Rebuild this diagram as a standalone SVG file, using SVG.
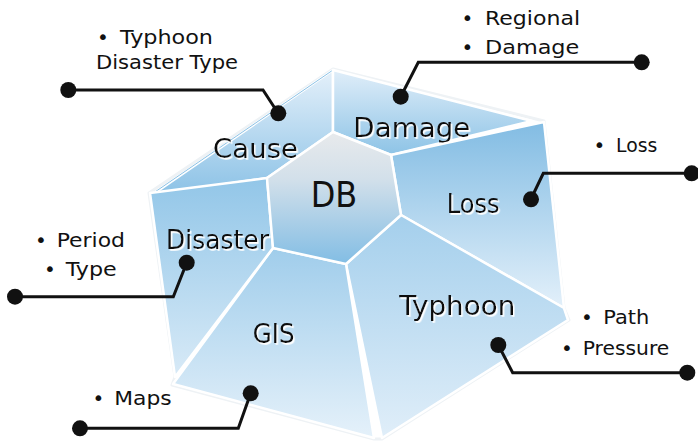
<svg xmlns="http://www.w3.org/2000/svg" width="698" height="443" viewBox="0 0 698 443">
<defs>
<linearGradient id="gCause" x1="0" y1="0" x2="0" y2="1"><stop offset="0" stop-color="#e4f0fa"/><stop offset="1" stop-color="#8cc2e6"/></linearGradient>
<linearGradient id="gDamage" x1="0" y1="0" x2="0" y2="1"><stop offset="0" stop-color="#e0eef9"/><stop offset="1" stop-color="#8dc3e6"/></linearGradient>
<linearGradient id="gLoss" x1="0" y1="0" x2="0" y2="1"><stop offset="0" stop-color="#82bce3"/><stop offset="1" stop-color="#e3f0fa"/></linearGradient>
<linearGradient id="gDisaster" x1="0" y1="0" x2="0" y2="1"><stop offset="0" stop-color="#92c6e8"/><stop offset="1" stop-color="#d8eaf7"/></linearGradient>
<linearGradient id="gGIS" x1="0" y1="0" x2="0" y2="1"><stop offset="0" stop-color="#a0cdeb"/><stop offset="1" stop-color="#e5f1fa"/></linearGradient>
<linearGradient id="gTyphoon" x1="0" y1="0" x2="0" y2="1"><stop offset="0" stop-color="#a4cfec"/><stop offset="1" stop-color="#e0eef9"/></linearGradient>
<linearGradient id="gHex" x1="0" y1="0" x2="0" y2="1"><stop offset="0" stop-color="#e8eaec"/><stop offset="0.35" stop-color="#d3e0ea"/><stop offset="1" stop-color="#82bde4"/></linearGradient>
<filter id="wsh" x="-10%" y="-20%" width="130%" height="150%">
<feDropShadow dx="1.5" dy="1.8" stdDeviation="0.3" flood-color="#ffffff" flood-opacity="1"/>
</filter>
</defs>
<style>
.face{stroke:#ffffff;stroke-width:2.5;stroke-linejoin:round}
.lbl{font-family:"DejaVu Sans",sans-serif;font-size:26px;fill:#111;filter:url(#wsh)}
.sm{font-family:"DejaVu Sans",sans-serif;font-size:20px;fill:#111}
.con{fill:none;stroke:#111;stroke-width:3;stroke-linejoin:miter}
.dot{fill:#111}
</style>
<g id="outline">
<polygon points="333,69 544,121 564,308 569,320 382,439 374,439 172,385 175,377 149,193" fill="none" stroke="#eef2f5" stroke-width="3" stroke-linejoin="round"/>
</g>
<g id="cause">
<polygon class="face" points="333,70 333,132 267,178 152,195" fill="url(#gCause)"/>
<line x1="333" y1="70" x2="152" y2="194" stroke="#8cc2e6" stroke-width="1"/>
<text class="lbl" x="213" y="158.3" textLength="85" lengthAdjust="spacingAndGlyphs">Cause</text>
</g>
<g id="damage">
<polygon class="face" points="333,70 532,121 391,155 333,132" fill="url(#gDamage)"/>
<text class="lbl" x="353.3" y="137.3" textLength="117" lengthAdjust="spacingAndGlyphs">Damage</text>
</g>
<g id="loss">
<polygon class="face" points="391,155 544,122 564,308 401,215" fill="url(#gLoss)"/>
<text class="lbl" x="446.7" y="213.3" textLength="53" lengthAdjust="spacingAndGlyphs">Loss</text>
</g>
<g id="typhoon">
<polygon class="face" points="401,215 564,308 568,320 382,438 346,264" fill="url(#gTyphoon)"/>
<text class="lbl" x="399.3" y="315" textLength="116" lengthAdjust="spacingAndGlyphs">Typhoon</text>
</g>
<g id="gis">
<polygon class="face" points="273,248 346,264 374,438 173,384" fill="url(#gGIS)"/>
<text class="lbl" x="252.7" y="343.3" textLength="42" lengthAdjust="spacingAndGlyphs">GIS</text>
</g>
<g id="disaster">
<polygon class="face" points="150,193 267,178 273,248 175,377" fill="url(#gDisaster)"/>
<text class="lbl" x="166" y="249.3" textLength="103" lengthAdjust="spacingAndGlyphs">Disaster</text>
</g>
<g id="db">
<polygon class="face" points="333,132 391,155 401,215 346,264 273,248 267,178" fill="url(#gHex)"/>
<text class="lbl" x="310.7" y="207.3" style="font-size:35px;filter:none" textLength="46.6" lengthAdjust="spacingAndGlyphs">DB</text>
</g>
<g id="connectors">
<polyline class="con" points="68,90 263,90 278,113"/>
<circle class="dot" cx="68.3" cy="90" r="8"/><circle class="dot" cx="278.3" cy="113.3" r="8"/>
<polyline class="con" points="642,62.3 418.3,62.3 400.7,96.7"/>
<circle class="dot" cx="641.7" cy="62.3" r="8"/><circle class="dot" cx="400.7" cy="96.7" r="8"/>
<polyline class="con" points="692,173.3 543.3,173.3 531,199"/>
<circle class="dot" cx="691.7" cy="173.3" r="8"/><circle class="dot" cx="531" cy="199.3" r="8"/>
<polyline class="con" points="15,296.7 173.3,296.7 186.7,262.7"/>
<circle class="dot" cx="15" cy="296.7" r="8"/><circle class="dot" cx="186.7" cy="262.7" r="8"/>
<polyline class="con" points="80,428.3 238.3,428.3 250.7,393.3"/>
<circle class="dot" cx="80" cy="428.3" r="8"/><circle class="dot" cx="250.7" cy="393.3" r="8"/>
<polyline class="con" points="498.3,345 512.7,372.7 687.3,372.7"/>
<circle class="dot" cx="498.3" cy="345" r="8"/><circle class="dot" cx="687.3" cy="372.7" r="8"/>
</g>
<g id="notes">
<text class="sm"><tspan x="97" y="44.3">•</tspan><tspan x="120" y="44.3" textLength="93" lengthAdjust="spacingAndGlyphs">Typhoon</tspan></text>
<text class="sm" x="96" y="69" textLength="142" lengthAdjust="spacingAndGlyphs">Disaster Type</text>
<text class="sm"><tspan x="461.5" y="25">•</tspan><tspan x="485" y="25" textLength="95" lengthAdjust="spacingAndGlyphs">Regional</tspan></text>
<text class="sm"><tspan x="461.5" y="54.3">•</tspan><tspan x="485" y="54.3" textLength="94.3" lengthAdjust="spacingAndGlyphs">Damage</tspan></text>
<text class="sm"><tspan x="593.5" y="151.7">•</tspan><tspan x="616" y="151.7" textLength="41.3" lengthAdjust="spacingAndGlyphs">Loss</tspan></text>
<text class="sm"><tspan x="35" y="246.7">•</tspan><tspan x="56.7" y="246.7" textLength="68.3" lengthAdjust="spacingAndGlyphs">Period</tspan></text>
<text class="sm"><tspan x="44" y="276">•</tspan><tspan x="65.7" y="276" textLength="51" lengthAdjust="spacingAndGlyphs">Type</tspan></text>
<text class="sm"><tspan x="92.5" y="405">•</tspan><tspan x="114.3" y="405" textLength="57.4" lengthAdjust="spacingAndGlyphs">Maps</tspan></text>
<text class="sm"><tspan x="581" y="324">•</tspan><tspan x="603.3" y="324" textLength="46" lengthAdjust="spacingAndGlyphs">Path</tspan></text>
<text class="sm"><tspan x="561" y="355">•</tspan><tspan x="582.7" y="355" textLength="86.6" lengthAdjust="spacingAndGlyphs">Pressure</tspan></text>
</g>
</svg>
